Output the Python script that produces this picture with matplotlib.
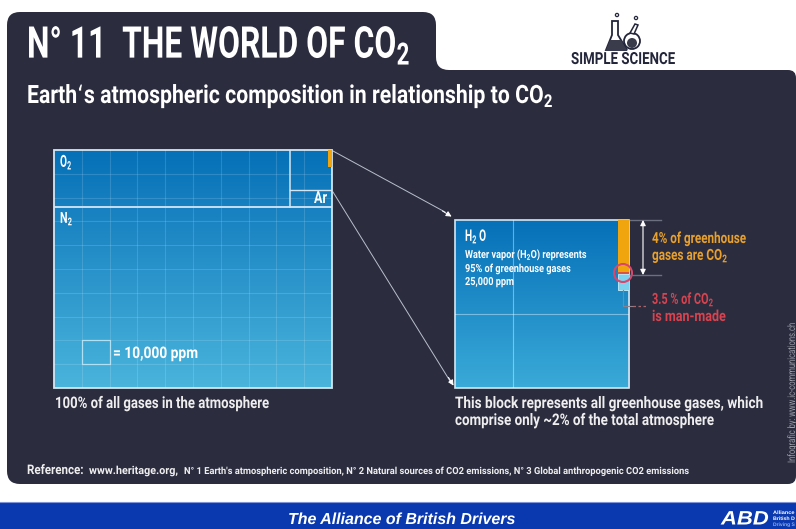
import numpy as np
import matplotlib
matplotlib.use('Agg')
import matplotlib.pyplot as plt
from matplotlib.patches import Rectangle, Circle, PathPatch, Polygon
from matplotlib.path import Path
from matplotlib.patheffects import AbstractPathEffect
from matplotlib.transforms import Affine2D, Bbox
from matplotlib.text import Text

W, H = 796, 529
plt.rcParams['font.family'] = ['Roboto', 'DejaVu Sans']
plt.rcParams['mathtext.default'] = 'regular'

# big block, in squares of 10,000 ppm
grid_cols = 10
grid_rows = 10
o2_rows = 2.4
ar_cols = 1.5
ar_top_rows = 1.67
co2_strip_cols = 0.14
co2_strip_rows = 0.7
legend_col = 1
legend_row = 8

# greenhouse block, in percent of its width and height
strip_left = 93.7
co2_top = 32.0
ghg_bottom = 41.5
man_made_line = 31.4
block_grid_x = [33.5]
block_grid_y = [56.0]

DARK = '#2b2d3f'
ORANGE = '#f0a50f'
TXT_ORANGE = '#e9a12b'
RED = '#d8434f'
LINE = '#b9c0cc'
SOFT = '#eeeeee'

fig = plt.figure(figsize=(W / 100, H / 100), dpi=100, facecolor='white')
renderer = fig.canvas.get_renderer()
ax = fig.add_axes([0, 0, 1, 1])
ax.set_xlim(0, W)
ax.set_ylim(H, 0)
ax.axis('off')


# no condensed font here, so the glyphs get squeezed when drawn
class Squeeze(AbstractPathEffect):
    def __init__(self, x0, sx, y0=0, sy=1):
        super().__init__()
        self.tr = Affine2D().translate(-x0, -y0).scale(sx, sy).translate(x0, y0)

    def draw_path(self, renderer, gc, tpath, affine, rgbFace=None):
        renderer.draw_path(gc, tpath, affine + self.tr, rgbFace)


class SqueezedText(Text):
    sx = 1
    sy = 1

    def get_window_extent(self, renderer=None, dpi=None):
        bb = super().get_window_extent(renderer, dpi)
        return Bbox.from_bounds(bb.x0, bb.y0, bb.width * self.sx, bb.height * self.sy)


def label(a, x0, x1, base, s, size, color='white', **kw):
    # text from x0 to x1 in picture pixels, base = baseline
    kw.setdefault('fontweight', 'bold')
    t = SqueezedText(x0, base, s, color=color, fontsize=size, va='baseline', ha='left', **kw)
    a.add_artist(t)
    t.set_transform(a.transData)
    t.set_clip_on(False)
    width = Text.get_window_extent(t, renderer).width
    t.sx = (x1 - x0) / width
    t.set_path_effects([Squeeze(x0, t.sx)])
    return t


def px_axes(x0, y0, x1, y1, xlim, ylim):
    a = fig.add_axes([x0 / W, 1 - y1 / H, (x1 - x0) / W, (y1 - y0) / H])
    a.set_xlim(*xlim)
    a.set_ylim(*ylim)
    a.axis('off')
    return a


def gradient(a, top, bottom, extent):
    c0 = np.array(matplotlib.colors.to_rgb(top))
    c1 = np.array(matplotlib.colors.to_rgb(bottom))
    t = np.linspace(0, 1, 128)[:, None, None]
    img = c0[None, None, :] * (1 - t) + c1[None, None, :] * t
    a.imshow(img, extent=extent, aspect='auto', origin='upper', zorder=0)


# panel with the tab on top
r = 13
verts = [(7 + r, 12), (436 - r, 12), (436, 12), (436, 12 + r), (436, 70 - r), (436, 70), (436 + r, 70),
         (796 - 8, 70), (796, 70), (796, 78), (796, 476), (796, 484), (788, 484), (7 + r, 484),
         (7, 484), (7, 484 - r), (7, 12 + r), (7, 12), (7 + r, 12)]
codes = [Path.MOVETO, Path.LINETO, Path.CURVE3, Path.CURVE3, Path.LINETO, Path.CURVE3, Path.CURVE3,
         Path.LINETO, Path.CURVE3, Path.CURVE3, Path.LINETO, Path.CURVE3, Path.CURVE3, Path.LINETO,
         Path.CURVE3, Path.CURVE3, Path.LINETO, Path.CURVE3, Path.CURVE3]
ax.add_patch(PathPatch(Path(verts, codes), fc=DARK, ec='none'))

# blue band
ax.add_patch(Rectangle((0, 502), W, 27, fc='#0a38ae', ec='none'))
ax.plot([0, W], [502, 502], color='#7f95d8', lw=0.8)
sans = ['Liberation Sans', 'DejaVu Sans']
label(ax, 288, 516, 524, 'The Alliance of British Drivers', 11.5, fontstyle='italic', family=sans)
label(ax, 721, 769, 524.5, 'ABD', 14, fontstyle='italic', family=sans)
label(ax, 773, 795, 514, 'Alliance', 3.6, family=sans)
label(ax, 773, 795, 520, 'British D', 3.6, family=sans)
label(ax, 773, 795, 526, 'Driving S', 3.6, color='#8fb0e8', family=sans)

# titles
label(ax, 27, 410, 58, 'N° 11  THE WORLD OF CO$_2$', 31.5)
label(ax, 27, 553, 103, "Earth‘s atmospheric composition in relationship to CO$_2$", 18.2)
label(ax, 571, 675, 64, 'SIMPLE SCIENCE', 12, color='#23263a')

# flasks of the logo
ax.add_patch(Polygon([(612, 21), (618, 21), (618, 35), (627, 50), (606, 50), (612, 35)], fc='white', ec='#23263a', lw=1.3))
ax.add_patch(Polygon([(610, 40), (621, 40), (627, 50), (606, 50)], fc='#3a3c4c', ec='none'))
ax.add_patch(Circle((632, 41), 8, fc='white', ec='#23263a', lw=1.3))
ax.add_patch(Circle((632, 43), 5, fc='#3a3c4c', ec='none'))
ax.add_patch(Polygon([(630, 33), (634, 34), (638, 25), (635, 24)], fc='white', ec='#23263a', lw=1.1))
ax.add_patch(Circle((617, 15), 1.6, fc='none', ec='#23263a', lw=0.9))
ax.add_patch(Circle((636, 18), 1.6, fc='none', ec='#23263a', lw=0.9))

# big block
big = px_axes(54, 150, 332, 388, (0, grid_cols), (grid_rows, 0))
gradient(big, '#0670b8', '#4ab4dc', (0, grid_cols, grid_rows, 0))
for c in range(1, grid_cols):
    big.axvline(c, color='white', alpha=0.14, lw=0.8)
for w in range(1, grid_rows):
    big.axhline(w, color='white', alpha=0.14, lw=0.8)
big.add_patch(Rectangle((0, 0), grid_cols, grid_rows, fc='none', ec='#d5e6f2', lw=1.3, clip_on=False))
big.plot([0, grid_cols], [o2_rows, o2_rows], color='#d5e6f2', lw=1.3)
big.plot([grid_cols - ar_cols] * 2, [0, o2_rows], color='#d5e6f2', lw=1.1)
big.plot([grid_cols - ar_cols, grid_cols], [ar_top_rows, ar_top_rows], color='#d5e6f2', lw=1.0)
big.add_patch(Rectangle((grid_cols - co2_strip_cols, 0), co2_strip_cols, co2_strip_rows, fc=ORANGE, ec='none', zorder=3))
big.add_patch(Rectangle((legend_col, legend_row), 1, 1, fc='none', ec='#a5dcf0', lw=0.9))

# connectors
ax.plot([333, 445], [151, 212], color=LINE, lw=0.7)
ax.annotate('', xy=(454, 218), xytext=(440, 209.5), arrowprops=dict(arrowstyle='-|>', color='white', lw=0.7, mutation_scale=8))
ax.plot([333, 450], [192, 381], color=LINE, lw=0.7)
ax.annotate('', xy=(455, 388), xytext=(447, 375), arrowprops=dict(arrowstyle='-|>', color='white', lw=0.7, mutation_scale=8))

# greenhouse block
blk = px_axes(455, 220, 629, 388, (0, 100), (100, 0))
gradient(blk, '#0670b8', '#3aaad8', (0, 100, 100, 0))
for v in block_grid_x:
    blk.axvline(v, color='white', alpha=0.4, lw=0.8)
for v in block_grid_y:
    blk.axhline(v, color='white', alpha=0.4, lw=0.8)
blk.add_patch(Rectangle((strip_left, 0), 100 - strip_left, co2_top, fc=ORANGE, ec='none', zorder=3))
blk.add_patch(Rectangle((strip_left, co2_top), 100 - strip_left, ghg_bottom - co2_top, fc='#7fd2ee', ec='#c8eefa', lw=0.6, zorder=3))
blk.plot([strip_left, 100], [man_made_line, man_made_line], color=RED, lw=1.2, zorder=4)
blk.add_patch(Rectangle((0, 0), 100, 100, fc='none', ec='#d5e6f2', lw=1.2, clip_on=False))

# top layer for marks and text that sit over the blocks
top = px_axes(0, 0, W, H, (0, W), (H, 0))
top.add_patch(Circle((623, 273), 9, fc='none', ec='#d9476c', lw=1.5))
top.plot([623, 623, 633], [290, 306, 306], color='#8d7f8c', lw=0.8)
top.plot([633, 646], [306, 306], color='#a8666c', lw=0.9, ls=(0, (2, 2)))
top.plot([630, 661], [220, 220], color='#6c6f80', lw=1)
top.plot([630, 661], [275, 275], color='#6c6f80', lw=1)
top.annotate('', xy=(643, 220), xytext=(643, 275), arrowprops=dict(arrowstyle='<|-|>', color='white', lw=0.8, mutation_scale=8, shrinkA=0, shrinkB=0))

label(top, 60, 72, 167, 'O$_2$', 12)
label(top, 60, 73, 223, 'N$_2$', 11)
label(top, 314, 327, 203, 'Ar', 12)
label(top, 113, 198, 358, '= 10,000 ppm', 11.5)
label(top, 55, 269, 408, '100% of all gases in the atmosphere', 11.5, color=SOFT)

label(top, 465, 487, 241, 'H$_2$ O', 11.5)
label(top, 465, 588, 258, 'Water vapor (H$_2$O) represents', 8)
label(top, 465, 571, 272, '95% of greenhouse gases', 8)
label(top, 465, 514, 285, '25,000 ppm', 8)

label(top, 652, 746, 243, '4% of greenhouse', 11, color=TXT_ORANGE)
label(top, 652, 728, 260, 'gases are CO$_2$', 11, color=TXT_ORANGE)
label(top, 652, 714, 304, '3.5 % of CO$_2$', 11, color=RED)
label(top, 652, 726, 321, 'is man-made', 11, color=RED)

label(top, 455, 763, 408, 'This block represents all greenhouse gases, which', 11.5, color=SOFT)
label(top, 455, 714, 425, 'comprise only ~2% of the total atmosphere', 11.5, color=SOFT)

# footer
label(top, 27, 84, 474, 'Reference:', 9.5, color=SOFT)
label(top, 89, 178, 474, 'www.heritage.org,', 8, color=SOFT)
label(top, 184, 691, 474, "N° 1 Earth's atmospheric composition, N° 2 Natural sources of CO2 emissions, N° 3 Global anthropogenic CO2 emissions",
      7, color=SOFT)

# rotated credit on the right edge, squeezed along y
credit = SqueezedText(795, 463, 'Infografic by: www.ic-communications.ch', color='#9a9ca8', fontsize=7.5,
                      rotation=90, rotation_mode='anchor', ha='left', va='baseline')
top.add_artist(credit)
credit.set_transform(top.transData)
credit.sy = 140 / Text.get_window_extent(credit, renderer).height
credit.set_path_effects([Squeeze(0, 1, H - 463, credit.sy)])

fig.savefig('out.png', dpi=100)
